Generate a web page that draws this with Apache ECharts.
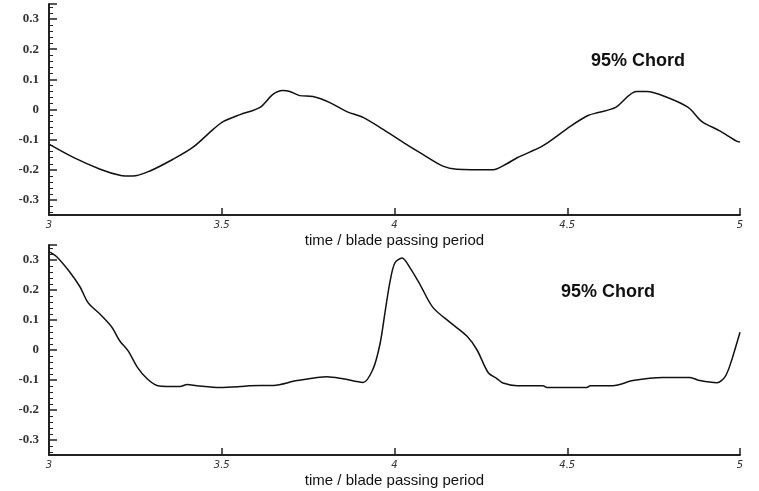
<!DOCTYPE html>
<html>
<head>
<meta charset="utf-8">
<script src="https://cdn.jsdelivr.net/npm/echarts@6/dist/echarts.min.js"></script>
<style>
html,body{margin:0;padding:0;background:#fff;}
#c1{width:759px;height:491px;}
</style>
</head>
<body>
<div id="c1"></div>
<script>
// upper panel
var timeTop = [3.0, 3.069, 3.148, 3.205, 3.243, 3.292, 3.359, 3.417, 3.475, 3.504, 3.553, 3.611, 3.648, 3.677, 3.697, 3.726, 3.764, 3.813, 3.862, 3.909, 3.967, 4.025, 4.082, 4.14, 4.18, 4.285, 4.325, 4.355, 4.43, 4.51, 4.56, 4.59, 4.64, 4.70, 4.73, 4.79, 4.85, 4.89, 4.94, 4.99, 5.0];
var valTop = [-0.115, -0.158, -0.198, -0.218, -0.221, -0.204, -0.165, -0.125, -0.066, -0.04, -0.017, 0.007, 0.05, 0.063, 0.06, 0.046, 0.043, 0.023, -0.007, -0.026, -0.066, -0.109, -0.149, -0.188, -0.198, -0.2, -0.18, -0.16, -0.12, -0.055, -0.02, -0.01, 0.007, 0.06, 0.06, 0.04, 0.007, -0.04, -0.07, -0.105, -0.108];
// lower panel
var timeBot = [3.003, 3.023, 3.06, 3.09, 3.113, 3.148, 3.182, 3.205, 3.229, 3.255, 3.284, 3.315, 3.379, 3.4, 3.428, 3.495, 3.553, 3.58, 3.65, 3.718, 3.805, 3.851, 3.909, 3.938, 3.958, 3.973, 3.987, 4.001, 4.022, 4.045, 4.074, 4.111, 4.161, 4.21, 4.239, 4.271, 4.297, 4.314, 4.355, 4.43, 4.441, 4.557, 4.566, 4.632, 4.69, 4.777, 4.855, 4.884, 4.933, 4.957, 4.977, 5.0];
var valBot = [0.326, 0.31, 0.26, 0.21, 0.158, 0.119, 0.076, 0.03, -0.003, -0.056, -0.096, -0.119, -0.122, -0.115, -0.119, -0.125, -0.122, -0.119, -0.118, -0.102, -0.089, -0.096, -0.108, -0.063, 0.02, 0.129, 0.228, 0.29, 0.307, 0.274, 0.218, 0.142, 0.092, 0.046, 0.0, -0.075, -0.096, -0.11, -0.119, -0.119, -0.125, -0.125, -0.119, -0.119, -0.102, -0.092, -0.092, -0.102, -0.109, -0.089, -0.03, 0.059];
var xTicks = [3, 3.5, 4, 4.5, 5];
var panelLabel = '95% Chord';
var xName = 'time / blade passing period';

function pairs(xs, ys){
    var out = [];
    for(var i=0; i<xs.length; ++i){
        out.push([xs[i], ys[i]]);
    }
    return out;
}

function xAxisOf(idx){
    return {
        gridIndex: idx,
        type: 'value',
        min: 3,
        max: 5,
        interval: 0.5,
        name: xName,
        nameLocation: 'middle',
        nameGap: 18,
        nameTextStyle: {color: '#111', fontSize: 15, fontFamily: 'Liberation Sans'},
        axisLine: {onZero: false, lineStyle: {color: '#222', width: 2}},
        axisTick: {inside: true, length: 7, lineStyle: {color: '#222', width: 1.5}},
        axisLabel: {
            color: '#333', fontSize: 10, fontStyle: 'italic', margin: 5,
            fontFamily: 'DejaVu Sans',
            formatter: function(v){ return xTicks.indexOf(v) > -1 ? String(v) : ''; }
        },
        splitLine: {show: false}
    };
}

function yAxisOf(idx){
    return {
        gridIndex: idx,
        type: 'value',
        min: -0.35,
        max: 0.35,
        splitNumber: 7,
        axisLine: {show: true, onZero: false, lineStyle: {color: '#222', width: 2}},
        axisTick: {show: true, inside: true, length: 8, lineStyle: {color: '#222', width: 1.5}},
        minorTick: {show: true, splitNumber: 5, length: 4, lineStyle: {color: '#222', width: 1}},
        axisLabel: {
            color: '#333', fontSize: 13, fontWeight: 'bold', margin: 10,
            fontFamily: 'Liberation Serif',
            showMinLabel: false, showMaxLabel: false,
            formatter: function(v){
                var r = Math.round(v*10)/10;
                if(Math.abs(Math.abs(v) - 0.35) < 1e-6) return '';
                return r === 0 ? '0' : r.toFixed(1);
            }
        },
        splitLine: {show: false}
    };
}

var chart = echarts.init(document.getElementById('c1'));
var option = {
    backgroundColor: '#fff',
    animation: false,
    title: [
        {text: panelLabel, left: 586, top: 47, textStyle: {fontSize: 18, fontWeight: 'bold', color: '#111', fontFamily: 'Liberation Sans'}},
        {text: panelLabel, left: 556, top: 278, textStyle: {fontSize: 18, fontWeight: 'bold', color: '#111', fontFamily: 'Liberation Sans'}}
    ],
    grid: [
        {left: 49, right: 19, top: 4, height: 211},
        {left: 49, right: 19, top: 245, height: 210}
    ],
    xAxis: [xAxisOf(0), xAxisOf(1)],
    yAxis: [yAxisOf(0), yAxisOf(1)],
    series: [
        {
            type: 'line', xAxisIndex: 0, yAxisIndex: 0,
            data: pairs(timeTop, valTop),
            smooth: 0.3, showSymbol: false,
            lineStyle: {color: '#111', width: 1.5}
        },
        {
            type: 'line', xAxisIndex: 1, yAxisIndex: 1,
            data: pairs(timeBot, valBot),
            smooth: 0.3, showSymbol: false,
            lineStyle: {color: '#111', width: 1.5}
        }
    ]
};
chart.setOption(option);
</script>
</body>
</html>
